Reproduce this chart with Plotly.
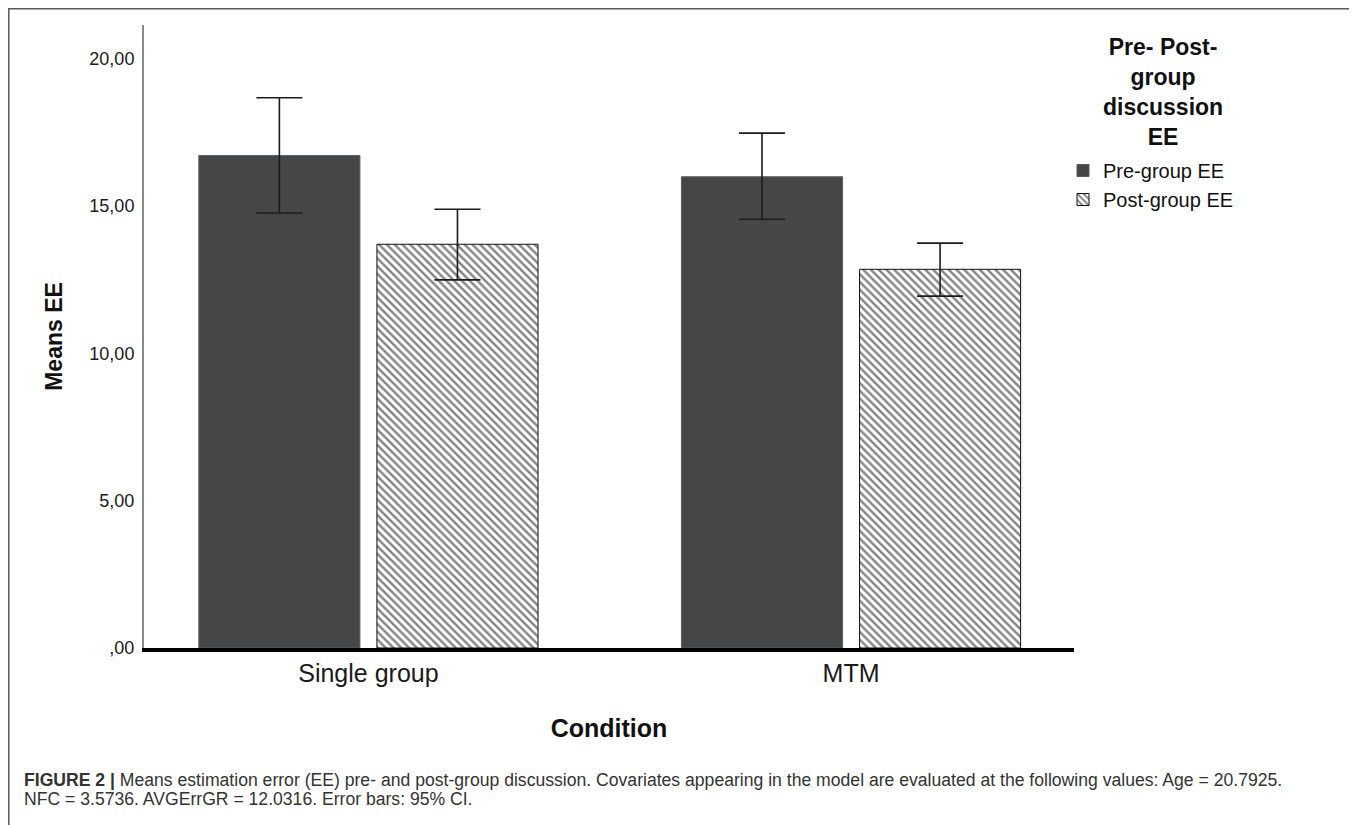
import plotly.graph_objects as go

# ---- data ----
conditions = ["Single group", "MTM"]
pre_means = [16.71, 15.99]
pre_upper = [18.67, 17.47]
pre_lower = [14.76, 14.55]
post_means = [13.70, 12.85]
post_upper = [14.89, 13.74]
post_lower = [12.49, 11.94]
series_names = ["Pre-group EE", "Post-group EE"]
y_tick_vals = [0, 5, 10, 15, 20]
y_tick_text = [",00", "5,00", "10,00", "15,00", "20,00"]
y_title = "Means EE"
x_title = "Condition"
legend_title = "Pre- Post-<br>group<br>discussion<br>EE"
caption_line1 = ("<b>FIGURE 2 |</b> Means estimation error (EE) pre- and post-group discussion. "
                 "Covariates appearing in the model are evaluated at the following values: Age = 20.7925.")
caption_line2 = "NFC = 3.5736. AVGErrGR = 12.0316. Error bars: 95% CI."

FONT = "Liberation Sans, Arial, sans-serif"

# the page body has an 8px default margin: work in screen pixels, shift by OFF
OFF = 8
SW, SH = 1357, 825
W, H = SW - OFF, SH - OFF
# plot-area geometry in screen pixels
L, R, T, B = 144, 1074, 25, 648
pw, ph = R - L, B - T


def px_x(p):
    return (p - L) / pw


def px_y(p):
    return (B - p) / ph


def plus(m, u):
    return [a - b for a, b in zip(u, m)]


def minus(m, lo):
    return [a - b for a, b in zip(m, lo)]


fig = go.Figure()
fig.add_trace(go.Bar(
    name=series_names[0], x=conditions, y=pre_means,
    marker=dict(color="#454648", line=dict(color="#5a5b5d", width=1)),
    error_y=dict(type="data", symmetric=False,
                 array=plus(pre_means, pre_upper),
                 arrayminus=minus(pre_means, pre_lower),
                 color="#1c1c1c", thickness=1.6, width=23),
))
fig.add_trace(go.Bar(
    name=series_names[1], x=conditions, y=post_means,
    marker=dict(color="white", line=dict(color="#111111", width=1),
                pattern=dict(shape="\\", fgcolor="#0a0a0a", bgcolor="white",
                             size=5.5, solidity=0.45)),
    error_y=dict(type="data", symmetric=False,
                 array=plus(post_means, post_upper),
                 arrayminus=minus(post_means, post_lower),
                 color="#1c1c1c", thickness=1.6, width=23),
))

fig.update_layout(
    width=W, height=H,
    margin=dict(l=L - OFF, r=SW - R, t=T - OFF, b=SH - B, autoexpand=False),
    paper_bgcolor="white", plot_bgcolor="white",
    barmode="group", bargap=0.262, bargroupgap=0.0955,
    font=dict(family=FONT, color="#111111"),
    showlegend=True,
    legend=dict(x=px_x(1063), y=px_y(151), xanchor="left", yanchor="top",
                font=dict(size=20, family=FONT, color="#111111"),
                bgcolor="rgba(0,0,0,0)", traceorder="normal",
                itemclick=False, tracegroupgap=0),
    xaxis=dict(type="category", range=[-0.465, 1.462],
               showline=True, linecolor="black", linewidth=4,
               showgrid=False, zeroline=False, ticks="",
               tickfont=dict(size=25, family=FONT, color="#1a1a1a"),
               title=dict(text="<b>" + x_title + "</b>",
                          font=dict(size=25, family=FONT, color="#111111"),
                          standoff=34)),
    yaxis=dict(range=[0, 21.14], tickvals=y_tick_vals, ticktext=y_tick_text,
               showline=True, linecolor="#8a8a8a", linewidth=2,
               showgrid=False, zeroline=False, ticks="",
               ticklabelstandoff=4,
               tickfont=dict(size=18, family=FONT, color="#1a1a1a"),
               title=dict(text="<b>" + y_title + "</b>",
                          font=dict(size=23, family=FONT, color="#111111"),
                          standoff=20)),
)

# legend title
fig.add_annotation(text="<b>" + legend_title + "</b>", xref="paper", yref="paper",
                   x=px_x(1163), y=px_y(92), xanchor="center", yanchor="middle",
                   showarrow=False, align="center",
                   font=dict(size=23, family=FONT, color="#111111"))

# caption
fig.add_annotation(text=caption_line1, xref="paper", yref="paper",
                   x=px_x(22), y=px_y(780), xanchor="left", yanchor="middle",
                   showarrow=False, align="left",
                   font=dict(size=17.6, family=FONT, color="#333333"))
fig.add_annotation(text=caption_line2, xref="paper", yref="paper",
                   x=px_x(22), y=px_y(799), xanchor="left", yanchor="middle",
                   showarrow=False, align="left",
                   font=dict(size=17.6, family=FONT, color="#333333"))

# outer figure frame
fig.add_shape(type="rect", xref="paper", yref="paper",
              x0=px_x(8.8), x1=px_x(1355), y0=px_y(840), y1=px_y(8.8),
              line=dict(color="#5a5a5a", width=1.5), fillcolor="rgba(0,0,0,0)",
              layer="below")

fig.write_html("out.html")
